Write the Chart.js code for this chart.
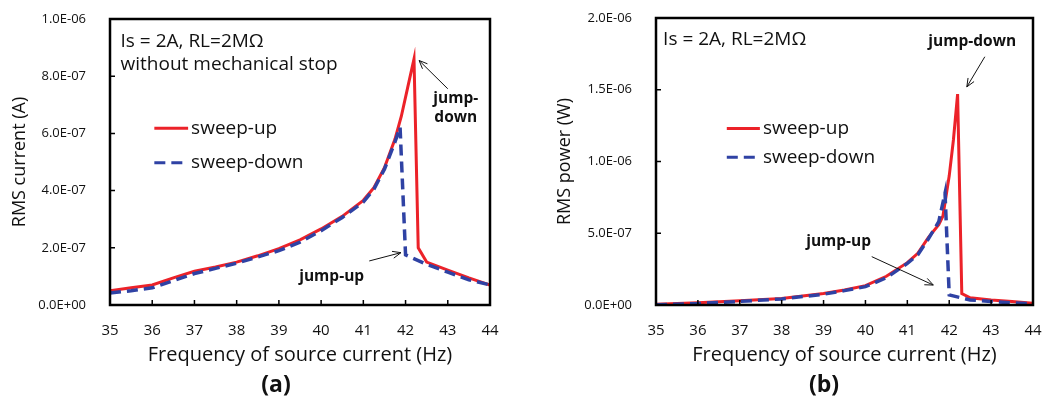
<!DOCTYPE html>
<html>
<head>
<meta charset="utf-8">
<script src="https://cdn.jsdelivr.net/npm/chart.js@4"></script>
<style>
  body { margin: 0; background: #fff; width: 1044px; height: 401px; overflow: hidden; position: relative; font-family: "Open Sans", sans-serif; }
  .box { position: absolute; top: 0; height: 401px; }
  .cap { position: absolute; top: 367px; line-height: 26px; font: bold 23px "Open Sans", sans-serif; transform: translateX(-50%); color: #111; }
</style>
</head>
<body>
<div class="box" style="left:0;width:520px"><canvas id="chartA" width="520" height="401"></canvas></div>
<div class="box" style="left:520px;width:524px"><canvas id="chartB" width="524" height="401"></canvas></div>
<div class="cap" style="left:276px">(a)</div>
<div class="cap" style="left:824px">(b)</div>
<script>
// (a) RMS current, A
const currUpFreq = [35, 35.5, 36, 36.5, 37, 37.5, 38, 38.5, 39, 39.5, 40, 40.5, 41, 41.25, 41.5, 41.75, 41.9, 42.05, 42.2, 42.3, 42.5, 43, 43.5, 44];
const currUp = [5.0e-8, 6.0e-8, 7.0e-8, 9.5e-8, 1.18e-7, 1.33e-7, 1.5e-7, 1.72e-7, 1.97e-7, 2.28e-7, 2.66e-7, 3.1e-7, 3.66e-7, 4.1e-7, 4.8e-7, 5.8e-7, 6.6e-7, 7.6e-7, 8.6e-7, 2.0e-7, 1.5e-7, 1.22e-7, 9.5e-8, 7.0e-8];
const currDownFreq = [35, 35.5, 36, 36.5, 37, 37.5, 38, 38.5, 39, 39.5, 40, 40.5, 41, 41.25, 41.5, 41.75, 41.87, 42, 42.5, 43, 43.5, 44];
const currDown = [4.2e-8, 5.0e-8, 6.0e-8, 8.5e-8, 1.1e-7, 1.28e-7, 1.46e-7, 1.68e-7, 1.9e-7, 2.2e-7, 2.6e-7, 3.06e-7, 3.6e-7, 4.05e-7, 4.75e-7, 5.7e-7, 6.22e-7, 1.75e-7, 1.42e-7, 1.15e-7, 8.8e-8, 7.0e-8];

// (b) RMS power, W
const powUpFreq = [35, 36, 37, 38, 39, 39.5, 40, 40.5, 41, 41.25, 41.5, 41.75, 41.85, 42, 42.1, 42.2, 42.3, 42.5, 43, 43.5, 44];
const powUp = [5e-9, 1.5e-8, 3e-8, 4.6e-8, 8e-8, 1.05e-7, 1.35e-7, 2.0e-7, 2.95e-7, 3.6e-7, 4.7e-7, 5.6e-7, 6.2e-7, 9.0e-7, 1.15e-6, 1.47e-6, 8e-8, 5e-8, 3.5e-8, 2.5e-8, 1.2e-8];
const powDownFreq = [35, 36, 37, 38, 39, 39.5, 40, 40.5, 41, 41.25, 41.5, 41.75, 41.9, 42, 42.5, 43, 43.5, 44];
const powDown = [2e-9, 1e-8, 2.5e-8, 4.2e-8, 7.5e-8, 1.0e-7, 1.28e-7, 1.9e-7, 2.9e-7, 3.5e-7, 4.6e-7, 5.8e-7, 7.8e-7, 7e-8, 3.5e-8, 2.5e-8, 1.5e-8, 8e-9];

const seriesNames = ["sweep-up", "sweep-down"];
const RED = "#ec2229";
const BLUE = "#2f42a4";
const FONT = '"Open Sans", sans-serif';

function sci(v) {
  if (Math.abs(v) < 1e-15) return "0.0E+00";
  const [m, e] = v.toExponential(1).split("e");
  const n = parseInt(e);
  return m + "E" + (n < 0 ? "-" : "+") + String(Math.abs(n)).padStart(2, "0");
}

function pts(xs, ys) {
  return xs.map((x, i) => ({ x: x, y: ys[i] }));
}

// frame, inner ticks, legend, notes and arrows
const frame = {
  id: "frame",
  afterDraw(chart, args, o) {
    const { ctx, chartArea: a, scales: { x, y } } = chart;
    ctx.save();
    ctx.strokeStyle = "#000";
    ctx.lineWidth = 1.5;
    ctx.beginPath();
    x.ticks.forEach(t => {
      const px = x.getPixelForValue(t.value);
      ctx.moveTo(px, a.bottom); ctx.lineTo(px, a.bottom - 5);
    });
    y.ticks.forEach(t => {
      const py = y.getPixelForValue(t.value);
      ctx.moveTo(a.left, py); ctx.lineTo(a.left + 5, py);
    });
    ctx.stroke();
    ctx.lineWidth = 2.5;
    ctx.strokeRect(a.left, a.top, a.width, a.height);

    // legend
    const lg = o.legend;
    chart.data.datasets.forEach((ds, i) => {
      const py = y.getPixelForValue(lg.ys[i]);
      ctx.strokeStyle = ds.borderColor;
      ctx.lineWidth = 3;
      ctx.setLineDash(ds.borderDash || []);
      ctx.beginPath();
      ctx.moveTo(x.getPixelForValue(lg.x0), py);
      ctx.lineTo(x.getPixelForValue(lg.x1), py);
      ctx.stroke();
      ctx.setLineDash([]);
      ctx.fillStyle = "#111";
      ctx.font = "19px " + FONT;
      ctx.textAlign = "left";
      ctx.textBaseline = "middle";
      ctx.fillText(ds.label, x.getPixelForValue(lg.x1) + 3, py);
    });

    // notes
    o.notes.forEach(n => {
      ctx.fillStyle = "#111";
      ctx.font = n.font;
      ctx.textAlign = n.align || "center";
      ctx.textBaseline = "middle";
      ctx.fillText(n.text, x.getPixelForValue(n.x), y.getPixelForValue(n.y));
    });

    // arrows
    ctx.strokeStyle = "#111";
    ctx.lineWidth = 1;
    o.arrows.forEach(ar => {
      const x0 = x.getPixelForValue(ar[0]), y0 = y.getPixelForValue(ar[1]);
      const x1 = x.getPixelForValue(ar[2]), y1 = y.getPixelForValue(ar[3]);
      const ang = Math.atan2(y1 - y0, x1 - x0);
      ctx.beginPath();
      ctx.moveTo(x0, y0); ctx.lineTo(x1, y1);
      ctx.moveTo(x1 - 9 * Math.cos(ang - 0.4), y1 - 9 * Math.sin(ang - 0.4));
      ctx.lineTo(x1, y1);
      ctx.lineTo(x1 - 9 * Math.cos(ang + 0.4), y1 - 9 * Math.sin(ang + 0.4));
      ctx.stroke();
    });
    ctx.restore();
  }
};

function makeChart(id, up, down, yMax, yStep, yTitle, axisW, titlePad, pad, extra) {
  return new Chart(document.getElementById(id), {
    type: "line",
    data: {
      datasets: [
        { label: seriesNames[0], data: up, borderColor: RED, borderWidth: 3, pointRadius: 0, tension: 0, order: 1 },
        { label: seriesNames[1], data: down, borderColor: BLUE, borderWidth: 3.5, borderDash: [11, 6], pointRadius: 0, tension: 0, order: 0 }
      ]
    },
    options: {
      responsive: false,
      animation: false,
      layout: { padding: pad },
      plugins: { legend: { display: false }, tooltip: { enabled: false }, frame: extra },
      scales: {
        x: {
          type: "linear", min: 35, max: 44,
          ticks: { stepSize: 1, font: { size: 15, family: FONT }, color: "#111", padding: 9, maxRotation: 0 },
          grid: { display: false },
          border: { display: false },
          title: { display: true, text: "Frequency of source current (Hz)", font: { size: 20, family: FONT }, color: "#111", padding: { top: 0, bottom: 34 } },
          afterFit(s) { s.height = 96; s.paddingLeft = 0; s.paddingRight = 0; }
        },
        y: {
          min: 0, max: yMax,
          ticks: { stepSize: yStep, font: { size: 13, family: FONT }, color: "#111", padding: 16, callback: v => sci(v) },
          grid: { display: false },
          border: { display: false },
          title: { display: true, text: yTitle, font: { size: 18, family: FONT }, color: "#111", padding: { top: titlePad, bottom: 0 } },
          afterFit(s) { s.width = axisW; s.paddingTop = 0; s.paddingBottom = 0; }
        }
      }
    },
    plugins: [frame]
  });
}

makeChart("chartA", pts(currUpFreq, currUp), pts(currDownFreq, currDown), 1e-6, 2e-7, "RMS current (A)", 110, 9,
  { top: 19, right: 30, left: 0, bottom: 0 },
  {
    legend: { x0: 36.05, x1: 36.85, ys: [6.18e-7, 4.97e-7] },
    notes: [
      { text: "Is = 2A, RL=2M\u03A9", x: 35.25, y: 9.2e-7, align: "left", font: "19px " + FONT },
      { text: "without mechanical stop", x: 35.25, y: 8.4e-7, align: "left", font: "19px " + FONT },
      { text: "jump-", x: 43.19, y: 7.22e-7, font: "bold 15.5px " + FONT },
      { text: "down", x: 43.19, y: 6.56e-7, font: "bold 15.5px " + FONT },
      { text: "jump-up", x: 40.25, y: 9.9e-8, font: "bold 15.5px " + FONT }
    ],
    arrows: [[43.0, 7.56e-7, 42.32, 8.55e-7], [41.14, 1.54e-7, 41.89, 1.83e-7]]
  });

makeChart("chartB", pts(powUpFreq, powUp), pts(powDownFreq, powDown), 2e-6, 5e-7, "RMS power (W)", 136, 34,
  { top: 18, right: 11, left: 0, bottom: 0 },
  {
    legend: { x0: 36.69, x1: 37.48, ys: [1.23e-6, 1.03e-6] },
    notes: [
      { text: "Is = 2A, RL=2M\u03A9", x: 35.17, y: 1.85e-6, align: "left", font: "19px " + FONT },
      { text: "jump-down", x: 42.55, y: 1.835e-6, font: "bold 15.5px " + FONT },
      { text: "jump-up", x: 39.36, y: 4.41e-7, font: "bold 15.5px " + FONT }
    ],
    arrows: [[42.85, 1.73e-6, 42.42, 1.52e-6], [40.15, 3.37e-7, 41.62, 1.39e-7]]
  });
</script>
</body>
</html>
